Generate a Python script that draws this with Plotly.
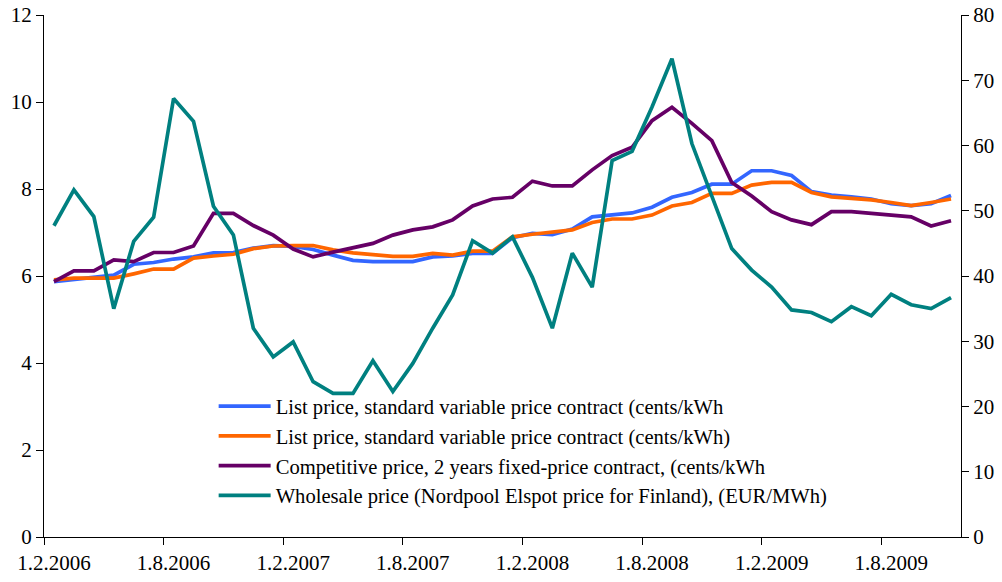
import plotly.graph_objects as go

# Monthly observations, Feb 2006 .. Nov 2009
months = [f"1.{m}.{y}" for y in range(2006, 2010) for m in range(1, 13)][1:47]

tick_labels = ["1.2.2006", "1.8.2006", "1.2.2007", "1.8.2007",
               "1.2.2008", "1.8.2008", "1.2.2009", "1.8.2009"]

list_price_a = [5.87, 5.92, 5.95, 6.02, 6.27, 6.31, 6.39, 6.44, 6.53, 6.54,
                6.64, 6.70, 6.68, 6.61, 6.48, 6.36, 6.33, 6.33, 6.33, 6.44,
                6.46, 6.52, 6.52, 6.88, 6.98, 6.95, 7.08, 7.36, 7.40, 7.45,
                7.58, 7.81, 7.92, 8.11, 8.11, 8.42, 8.42, 8.31, 7.94, 7.86,
                7.82, 7.77, 7.66, 7.62, 7.66, 7.85]

list_price_b = [5.91, 5.95, 5.95, 5.95, 6.05, 6.16, 6.16, 6.41, 6.46, 6.50,
                6.63, 6.69, 6.70, 6.70, 6.60, 6.53, 6.49, 6.45, 6.45, 6.52,
                6.48, 6.57, 6.57, 6.90, 6.96, 7.02, 7.06, 7.23, 7.31, 7.31,
                7.40, 7.61, 7.69, 7.90, 7.90, 8.09, 8.15, 8.15, 7.92, 7.82,
                7.79, 7.75, 7.69, 7.62, 7.69, 7.77]

competitive_price = [5.87, 6.12, 6.12, 6.37, 6.33, 6.54, 6.54, 6.69, 7.44, 7.44,
                     7.16, 6.94, 6.62, 6.44, 6.55, 6.64, 6.75, 6.94, 7.06, 7.13,
                     7.29, 7.61, 7.77, 7.81, 8.18, 8.07, 8.07, 8.44, 8.77, 8.96,
                     9.57, 9.88, 9.51, 9.11, 8.15, 7.84, 7.48, 7.29, 7.18, 7.48,
                     7.48, 7.44, 7.40, 7.36, 7.15, 7.27]

wholesale_price = [47.7, 53.2, 49.1, 35.0, 45.3, 49.0, 67.2, 63.7, 50.7, 46.3,
                   32.0, 27.6, 29.9, 23.8, 22.0, 22.0, 27.0, 22.3, 26.6, 32.0,
                   37.1, 45.4, 43.5, 46.0, 39.8, 32.0, 43.5, 38.3, 57.7, 59.1,
                   65.9, 73.3, 60.3, 52.3, 44.2, 40.9, 38.3, 34.8, 34.4, 33.0,
                   35.3, 33.9, 37.2, 35.6, 35.0, 36.7]

names = [
    "List price, standard variable price contract (cents/kWh",
    "List price, standard variable price contract (cents/kWh)",
    "Competitive price, 2 years fixed-price contract, (cents/kWh",
    "Wholesale price (Nordpool Elspot price for Finland), (EUR/MWh)",
]
colors = ["#3366FF", "#FF6600", "#660066", "#008080"]

x = list(range(len(months)))
tickvals = [months.index(t) - 0.5 for t in tick_labels]

FONT = "Liberation Serif, Times New Roman, serif"

fig = go.Figure()
series = [list_price_a, list_price_b, competitive_price]
for i, s in enumerate(series):
    fig.add_trace(go.Scatter(x=x, y=s, mode="lines", name=names[i],
                             line=dict(color=colors[i], width=3.7),
                             legendgroup=f"g{i}"))
fig.add_trace(go.Scatter(x=x, y=wholesale_price, mode="lines", name=names[3],
                         line=dict(color=colors[3], width=3.7), yaxis="y2",
                         legendgroup="g3"))

axis_common = dict(showgrid=False, zeroline=False, showline=True,
                   linecolor="black", linewidth=1, ticks="outside",
                   tickcolor="black", ticklen=7, tickwidth=1, automargin=False,
                   ticklabeloverflow="allow",
                   tickfont=dict(family=FONT, size=21, color="black"))

fig.update_layout(
    template="none",
    width=1002, height=582,
    margin=dict(l=44, r=41, t=15, b=45),
    plot_bgcolor="white", paper_bgcolor="white",
    font=dict(family=FONT, color="black"),
    xaxis=dict(range=[-0.5, len(months) - 0.5], tickvals=tickvals,
               ticktext=tick_labels, ticklabelshift=10, **axis_common),
    yaxis=dict(range=[0, 12], tickvals=list(range(0, 13, 2)), **axis_common),
    yaxis2=dict(range=[0, 80], tickvals=list(range(0, 81, 10)),
                overlaying="y", side="right", **axis_common),
    legend=dict(x=0.185, y=0.289, xanchor="left", yanchor="top",
                bgcolor="rgba(0,0,0,0)", font=dict(family=FONT, size=20.6),
                tracegroupgap=0, itemwidth=52),
    showlegend=True,
)

fig.write_html("out.html",
               config={"displayModeBar": False},
               post_script="document.body.style.margin='0';")
